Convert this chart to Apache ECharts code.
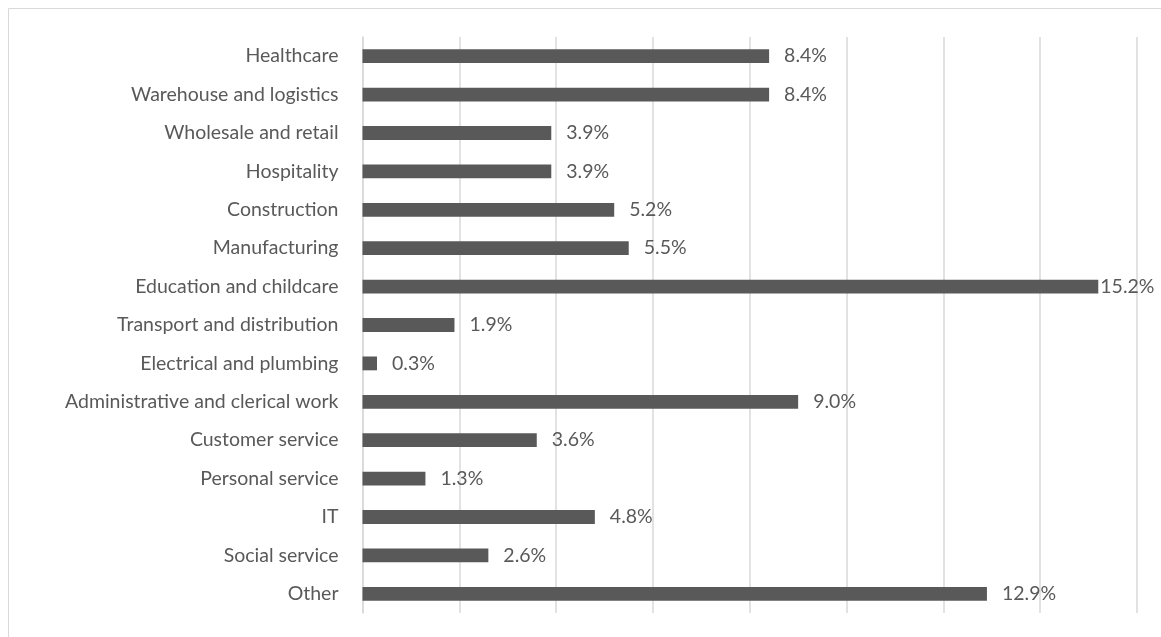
<!DOCTYPE html>
<html>
<head>
<meta charset="utf-8">
<script src="https://cdn.jsdelivr.net/npm/echarts@6/dist/echarts.min.js"></script>
<style>
  html, body { margin: 0; padding: 0; background: #ffffff; }
  #chart { width: 1161px; height: 637px; }
</style>
</head>
<body>
<div id="chart"></div>
<script>
// Share of respondents by sector (percent)
const categories = [
  'Healthcare',
  'Warehouse and logistics',
  'Wholesale and retail',
  'Hospitality',
  'Construction',
  'Manufacturing',
  'Education and childcare',
  'Transport and distribution',
  'Electrical and plumbing',
  'Administrative and clerical work',
  'Customer service',
  'Personal service',
  'IT',
  'Social service',
  'Other'
];
const shares = [8.4, 8.4, 3.9, 3.9, 5.2, 5.5, 15.2, 1.9, 0.3, 9.0, 3.6, 1.3, 4.8, 2.6, 12.9];

const FONT = 'Lato, "Open Sans", sans-serif';
const TEXT = '#595959';

const seriesData = shares.map(v => {
  const item = { value: v };
  // the longest bar leaves no room, so its label sits tight against the end
  if (v >= 15) item.label = { distance: 2 };
  return item;
});

const chart = echarts.init(document.getElementById('chart'), null, { renderer: 'canvas' });
chart.setOption({
  animation: false,
  backgroundColor: '#ffffff',
  graphic: [{
    type: 'rect',
    shape: { x: 8.5, y: 8.5, width: 1300, height: 800 },
    style: { fill: 'none', stroke: '#d9d9d9', lineWidth: 1 },
    silent: true,
    z: -10
  }],
  grid: { left: 362.5, right: 24, top: 37, bottom: 24, containLabel: false },
  xAxis: {
    type: 'value',
    min: 0,
    max: 16,
    interval: 2,
    axisLabel: { show: false },
    axisLine: { show: false },
    axisTick: { show: false },
    splitLine: { show: true, lineStyle: { color: '#d9d9d9', width: 1.5 } }
  },
  yAxis: {
    type: 'category',
    inverse: true,
    data: categories,
    axisLine: { show: true, lineStyle: { color: '#d9d9d9', width: 1.5 } },
    axisTick: { show: false },
    axisLabel: { color: TEXT, fontFamily: FONT, fontSize: 19.5, margin: 24 }
  },
  series: [{
    type: 'bar',
    data: seriesData,
    barWidth: '36%',
    itemStyle: { color: '#595959' },
    label: {
      show: true,
      position: 'right',
      distance: 15,
      color: TEXT,
      fontFamily: FONT,
      fontSize: 19.5,
      formatter: p => p.value.toFixed(1) + '%'
    }
  }]
});
</script>
</body>
</html>
